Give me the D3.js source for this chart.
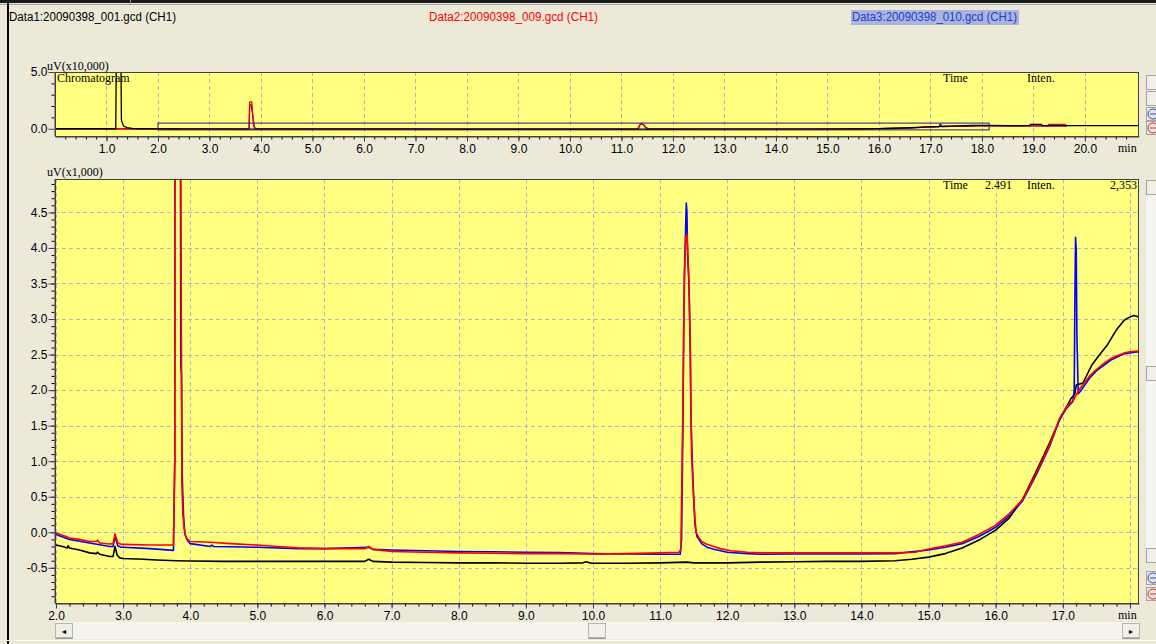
<!DOCTYPE html>
<html>
<head>
<meta charset="utf-8">
<script src="https://cdnjs.cloudflare.com/ajax/libs/d3/7.8.5/d3.min.js"></script>
<style>
  html, body { margin: 0; padding: 0; background: #ece9d8; }
  svg { display: block; }
</style>
</head>
<body>
<svg id="chart" width="1156" height="644"></svg>
<script>
// data files shown in the header
const fileNames = ['Data1:20090398_001.gcd (CH1)', 'Data2:20090398_009.gcd (CH1)', 'Data3:20090398_010.gcd (CH1)'];

// retention time (min) and intensity (uV x1,000) for each trace
const blackTime = [0, 1.18, 1.19, 1.28, 1.29, 1.33, 1.4, 1.5, 1.7, 2.0, 2.1, 2.17, 2.18, 2.2, 2.35, 2.5, 2.6, 2.62, 2.65, 2.8, 2.85, 2.88, 2.91, 2.95, 3.0, 3.3, 3.5, 3.8, 4.0, 4.5, 5.0, 5.5, 6.0, 6.6, 6.66, 6.72, 7.0, 7.5, 8.0, 8.5, 9.0, 9.5, 9.85, 9.9, 9.95, 10.0, 10.5, 11.0, 11.4, 11.5, 12.0, 12.5, 13.0, 13.5, 14.0, 14.5, 14.75, 15.0, 15.25, 15.5, 15.75, 16.0, 16.2, 16.4, 16.6, 16.8, 16.95, 17.05, 17.12, 17.18, 17.2, 17.3, 17.43, 17.55, 17.66, 17.8, 17.91, 18.0, 18.06, 18.13, 18.5, 18.93, 18.94, 19.16, 19.17, 20.0, 21.05];
const blackValue = [0, 0, 60, 60, 7.6, 2.4, 1.0, 0.2, 0, -0.18, -0.2, -0.22, -0.19, -0.22, -0.25, -0.29, -0.3, -0.28, -0.31, -0.34, -0.34, -0.2, -0.32, -0.36, -0.37, -0.38, -0.39, -0.4, -0.405, -0.41, -0.41, -0.41, -0.41, -0.41, -0.38, -0.41, -0.42, -0.425, -0.43, -0.43, -0.435, -0.435, -0.43, -0.415, -0.43, -0.435, -0.435, -0.43, -0.42, -0.43, -0.43, -0.42, -0.415, -0.41, -0.41, -0.4, -0.38, -0.35, -0.3, -0.22, -0.11, 0.03, 0.2, 0.46, 0.85, 1.25, 1.58, 1.75, 1.88, 1.95, 2.07, 2.1, 2.35, 2.5, 2.63, 2.85, 2.98, 3.03, 3.05, 3.03, 2.8, 2.8, 3.9, 3.9, 2.7, 2.7, 2.7];

const redTime = [0, 1.9, 2.0, 2.15, 2.2, 2.35, 2.5, 2.6, 2.62, 2.65, 2.8, 2.85, 2.88, 2.92, 2.97, 3.0, 3.4, 3.75, 3.77, 3.78, 3.82, 3.84, 3.86, 3.87, 3.875, 3.89, 3.91, 3.93, 3.96, 4.0, 4.3, 4.6, 5.0, 5.3, 5.6, 6.0, 6.6, 6.66, 6.72, 7.0, 7.5, 8.0, 8.5, 9.0, 9.5, 10.0, 10.5, 11.0, 11.28, 11.31, 11.33, 11.35, 11.36, 11.385, 11.4, 11.41, 11.43, 11.45, 11.46, 11.47, 11.49, 11.52, 11.54, 11.58, 11.62, 11.7, 11.8, 11.9, 12.05, 12.3, 12.5, 13.0, 13.5, 14.0, 14.5, 14.8, 15.0, 15.25, 15.5, 15.75, 16.0, 16.2, 16.4, 16.6, 16.8, 16.95, 17.05, 17.15, 17.26, 17.4, 17.5, 17.6, 17.71, 17.8, 17.91, 18.0, 18.11, 18.14, 18.5, 19.0, 19.29, 19.3, 19.62, 19.63, 19.65];
const redValue = [0, 0, -0.01, -0.06, -0.08, -0.1, -0.13, -0.13, -0.11, -0.15, -0.165, -0.16, -0.02, -0.15, -0.17, -0.17, -0.18, -0.18, 1.05, 23.7, 23.7, 12, 5.0, 2.3, 0.72, 0.25, 0.05, -0.05, -0.1, -0.13, -0.14, -0.16, -0.18, -0.2, -0.22, -0.23, -0.23, -0.2, -0.24, -0.27, -0.28, -0.29, -0.295, -0.3, -0.3, -0.305, -0.3, -0.29, -0.28, -0.24, 1.12, 2.49, 3.62, 4.15, 4.19, 4.0, 3.53, 2.58, 1.69, 1.07, 0.65, 0.18, -0.01, -0.08, -0.13, -0.17, -0.2, -0.23, -0.26, -0.28, -0.29, -0.29, -0.29, -0.29, -0.29, -0.28, -0.235, -0.19, -0.14, -0.03, 0.1, 0.26, 0.46, 0.82, 1.22, 1.6, 1.76, 1.85, 2.03, 2.2, 2.29, 2.37, 2.44, 2.48, 2.52, 2.54, 2.55, 2.54, 2.5, 2.5, 2.5, 3.9, 3.9, 2.5, 2.5];

const blueTime = [0, 1.9, 2.0, 2.2, 2.5, 2.8, 2.85, 2.88, 2.92, 2.97, 3.0, 3.4, 3.75, 3.77, 3.78, 3.81, 3.84, 3.86, 3.87, 3.88, 3.9, 3.92, 3.95, 4.0, 4.3, 4.32, 4.35, 5.0, 5.6, 6.0, 6.66, 6.72, 7.0, 7.5, 8.0, 8.5, 9.0, 9.5, 10.0, 10.5, 11.0, 11.3, 11.32, 11.34, 11.35, 11.37, 11.39, 11.4, 11.41, 11.43, 11.45, 11.46, 11.48, 11.5, 11.52, 11.55, 11.62, 11.7, 11.8, 12.0, 12.3, 12.5, 13.0, 14.0, 14.5, 15.0, 15.25, 15.5, 15.75, 16.0, 16.2, 16.4, 16.6, 16.8, 16.95, 17.05, 17.15, 17.17, 17.18, 17.19, 17.2, 17.21, 17.23, 17.26, 17.4, 17.5, 17.71, 17.91, 18.11, 18.14, 19.0, 19.65];
const blueValue = [0, 0, -0.03, -0.1, -0.15, -0.2, -0.2, -0.06, -0.19, -0.21, -0.21, -0.23, -0.255, 1.03, 21, 21, 12, 2.35, 2.2, 0.8, 0.23, -0.02, -0.1, -0.16, -0.2, -0.18, -0.2, -0.21, -0.23, -0.23, -0.21, -0.24, -0.25, -0.26, -0.27, -0.275, -0.28, -0.285, -0.3, -0.305, -0.31, -0.31, -0.1, 1.5, 2.8, 3.9, 4.63, 4.5, 3.9, 3.5, 2.5, 1.6, 1.0, 0.5, 0.1, -0.06, -0.16, -0.21, -0.24, -0.28, -0.3, -0.31, -0.305, -0.305, -0.3, -0.25, -0.21, -0.16, -0.06, 0.07, 0.23, 0.44, 0.8, 1.2, 1.58, 1.74, 1.84, 2.0, 3.3, 4.15, 3.97, 2.75, 1.95, 1.98, 2.17, 2.27, 2.42, 2.51, 2.54, 2.53, 2.5, 2.5];

// axis ticks
const mainXTicks = [2, 3, 4, 5, 6, 7, 8, 9, 10, 11, 12, 13, 14, 15, 16, 17, 18];
const mainYTicks = [-0.5, 0, 0.5, 1, 1.5, 2, 2.5, 3, 3.5, 4, 4.5];
const overviewXTicks = [1, 2, 3, 4, 5, 6, 7, 8, 9, 10, 11, 12, 13, 14, 15, 16, 17, 18, 19, 20];
const overviewYTicks = [0, 5];

// cursor readout
const cursorTime = '2.491';
const cursorInten = '2,353';

const svg = d3.select('#chart');
const sans = 'Liberation Sans, Arial, sans-serif';
const serif = 'Liberation Serif, Times New Roman, serif';
const color = { black: '#000000', red: '#ff0000', blue: '#0000ff', plot: '#ffff80', grid: '#b4b4c4', axis: '#404040' };

const series = [
  { name: 'black', time: blackTime, value: blackValue, color: color.black },
  { name: 'blue', time: blueTime, value: blueValue, color: color.blue },
  { name: 'red', time: redTime, value: redValue, color: color.red }
].map(s => Object.assign(s, { points: s.time.map((t, i) => [t, s.value[i]]) }));

// window frame
svg.append('rect').attr('x', 0).attr('y', 0).attr('width', 1156).attr('height', 3).attr('fill', '#1a1a1a');
svg.append('line').attr('x1', 130.5).attr('x2', 130.5).attr('y1', 0).attr('y2', 4).attr('stroke', '#888');
svg.append('line').attr('x1', 0).attr('x2', 1156).attr('y1', 4.5).attr('y2', 4.5).attr('stroke', '#a0a0a0');
svg.append('rect').attr('x', 7).attr('y', 3).attr('width', 2).attr('height', 641).attr('fill', '#000');

// header with file names
const header = svg.append('g').attr('font-family', sans).attr('font-size', 12);
header.append('rect').attr('x', 851).attr('y', 10).attr('width', 168).attr('height', 15).attr('fill', '#aab5da');
header.selectAll('text')
    .data(fileNames)
    .enter()
    .append('text')
    .attr('x', (d, i) => [9, 429, 852][i])
    .attr('y', 21)
    .attr('textLength', (d, i) => [167, 169, 165][i])
    .attr('lengthAdjust', 'spacingAndGlyphs')
    .attr('fill', (d, i) => [color.black, color.red, '#1f3ad6'][i])
    .text(d => d);

function drawPanel(opt) {
  const g = svg.append('g');
  const x = d3.scaleLinear().domain(opt.xDomain).range([opt.left, opt.right]);
  const y = d3.scaleLinear().domain(opt.yDomain).range([opt.bottom, opt.top]);
  const clipId = 'clip-' + opt.id;

  g.append('clipPath').attr('id', clipId)
      .append('rect')
      .attr('x', opt.left).attr('y', opt.top)
      .attr('width', opt.right - opt.left).attr('height', opt.bottom - opt.top);

  g.append('rect')
      .attr('x', opt.left).attr('y', opt.top)
      .attr('width', opt.right - opt.left).attr('height', opt.bottom - opt.top)
      .attr('fill', color.plot);

  // dashed grid
  g.append('g').selectAll('line')
      .data(opt.xTicks.filter(t => x(t) > opt.left + 1 && x(t) < opt.right - 1))
      .enter()
      .append('line')
      .attr('x1', d => Math.round(x(d)) + 0.5).attr('x2', d => Math.round(x(d)) + 0.5)
      .attr('y1', opt.top).attr('y2', opt.bottom)
      .attr('stroke', color.grid).attr('stroke-dasharray', '4,3');

  g.append('g').selectAll('line')
      .data(opt.gridY ? opt.yTicks : [])
      .enter()
      .append('line')
      .attr('x1', opt.left).attr('x2', opt.right)
      .attr('y1', d => Math.round(y(d)) + 0.5).attr('y2', d => Math.round(y(d)) + 0.5)
      .attr('stroke', color.grid).attr('stroke-dasharray', '4,3');

  // minor ticks
  g.append('g')
      .attr('transform', `translate(${opt.left - 0.5},0)`)
      .call(d3.axisLeft(y).tickValues(opt.yMinor).tickSize(3).tickSizeOuter(0).tickFormat(''))
      .call(a => a.select('.domain').remove());
  g.append('g')
      .attr('transform', `translate(0,${opt.bottom + 0.5})`)
      .call(d3.axisBottom(x).tickValues(opt.xMinor).tickSize(3).tickSizeOuter(0).tickFormat(''))
      .call(a => a.select('.domain').remove());

  // major ticks and labels
  const yAxis = g.append('g')
      .attr('transform', `translate(${opt.left - 0.5},0)`)
      .call(d3.axisLeft(y).tickValues(opt.yTicks).tickSize(6).tickSizeOuter(0).tickPadding(1).tickFormat(d => d.toFixed(1)));
  const xAxis = g.append('g')
      .attr('transform', `translate(0,${opt.bottom + 0.5})`)
      .call(d3.axisBottom(x).tickValues(opt.xTicks).tickSize(5).tickSizeOuter(0).tickPadding(3).tickFormat(opt.xFormat));

  [yAxis, xAxis].forEach(a => {
    a.selectAll('line, path').attr('stroke', color.axis);
    a.selectAll('text').attr('font-family', sans).attr('font-size', 12).attr('fill', '#000');
  });
  yAxis.select('.domain').attr('d', `M0.5,${opt.top}V${opt.bottom}`);

  // traces
  const line = d3.line().x(d => x(d[0])).y(d => y(d[1] / opt.scale));
  g.append('g').attr('clip-path', `url(#${clipId})`)
      .selectAll('path')
      .data(opt.order.map(n => series.find(s => s.name === n)))
      .enter()
      .append('path')
      .attr('d', d => line(d.points))
      .attr('fill', 'none')
      .attr('stroke', d => d.color)
      .attr('stroke-width', opt.lineWidth)
      .attr('stroke-linejoin', 'round');

  // frame
  g.append('rect')
      .attr('x', opt.left + 0.5).attr('y', opt.top + 0.5)
      .attr('width', opt.right - opt.left - 1).attr('height', opt.bottom - opt.top)
      .attr('fill', 'none').attr('stroke', color.axis);

  return { g, x, y };
}

// overview chromatogram (uV x10,000)
const overview = drawPanel({
  id: 'overview', left: 55, right: 1139, top: 72, bottom: 136,
  xDomain: [0, 21.05], yDomain: [-0.64, 5.0], scale: 10,
  xTicks: overviewXTicks, yTicks: overviewYTicks,
  xMinor: d3.range(1, 105).map(i => i / 5), yMinor: [1, 2, 3, 4],
  xFormat: d => d.toFixed(1), gridY: false,
  order: ['blue', 'red', 'black'], lineWidth: 1.3
});

// zoom window marker in the overview
overview.g.append('rect')
    .attr('x', overview.x(2.0)).attr('y', overview.y(0.497))
    .attr('width', overview.x(18.14) - overview.x(2.0))
    .attr('height', overview.y(-0.0995) - overview.y(0.497))
    .attr('fill', 'none').attr('stroke', '#1c1c8c').attr('stroke-width', 1);

// main chromatogram (uV x1,000)
const main = drawPanel({
  id: 'main', left: 55, right: 1139, top: 179, bottom: 603,
  xDomain: [1.985, 18.135], yDomain: [-0.995, 4.97], scale: 1,
  xTicks: mainXTicks, yTicks: mainYTicks,
  xMinor: d3.range(10, 91).map(i => i / 5), yMinor: d3.range(-9, 50).map(i => i / 10),
  xFormat: d => d >= 18 ? '' : d.toFixed(1), gridY: true,
  order: ['black', 'blue', 'red'], lineWidth: 1.6
});

// serif labels
const labels = svg.append('g').attr('font-family', serif).attr('font-size', 12).attr('fill', '#000');
[
  { x: 47, y: 70, t: 'uV(x10,000)' },
  { x: 57, y: 82, t: 'Chromatogram' },
  { x: 943, y: 82, t: 'Time' },
  { x: 1027, y: 82, t: 'Inten.' },
  { x: 1118, y: 152, t: 'min' },
  { x: 47, y: 176, t: 'uV(x1,000)' },
  { x: 943, y: 189, t: 'Time' },
  { x: 985, y: 189, t: cursorTime },
  { x: 1027, y: 189, t: 'Inten.' },
  { x: 1137, y: 189, t: cursorInten, anchor: 'end' },
  { x: 1118, y: 619, t: 'min' }
].forEach(d => {
  labels.append('text').attr('x', d.x).attr('y', d.y)
      .attr('text-anchor', d.anchor || 'start').text(d.t);
});

// bottom scrollbar
const hs = svg.append('g');
hs.append('rect').attr('x', 55).attr('y', 622).attr('width', 1085).attr('height', 17).attr('fill', '#f5f4ee');
hs.append('line').attr('x1', 0).attr('x2', 1156).attr('y1', 640.5).attr('y2', 640.5).attr('stroke', '#fbfaf6');
[[55, '\u25C4'], [1122, '\u25BA'], [588, '']].forEach(([bx, glyph]) => {
  hs.append('rect').attr('x', bx + 0.5).attr('y', 623.5).attr('width', 17).attr('height', 15)
      .attr('fill', '#f0efe8').attr('stroke', '#b8b6a8');
  hs.append('line').attr('x1', bx + 1).attr('x2', bx + 17).attr('y1', 638).attr('y2', 638).attr('stroke', '#807e70');
  hs.append('text').attr('x', bx + 9).attr('y', 634).attr('text-anchor', 'middle')
      .attr('font-size', 7).attr('font-family', sans).text(glyph);
});

// right side buttons
const vs = svg.append('g');
vs.append('rect').attr('x', 1146).attr('y', 180).attr('width', 10).attr('height', 382).attr('fill', '#f5f4ee');
[[75, 'btn'], [91, 'btn'], [107, 'blue'], [121, 'red'], [180, 'btn'], [366, 'btn'], [548, 'btn'], [571, 'blue'], [587, 'red']].forEach(([by, kind]) => {
  if (kind === 'btn') {
    vs.append('rect').attr('x', 1146.5).attr('y', by + 0.5).attr('width', 12).attr('height', 14)
        .attr('fill', '#f0efe8').attr('stroke', '#a8a698');
  } else {
    vs.append('rect').attr('x', 1146.5).attr('y', by + 0.5).attr('width', 12).attr('height', 13)
        .attr('fill', '#e8e6dc').attr('stroke', '#a8a698');
    vs.append('circle').attr('cx', 1153).attr('cy', by + 7).attr('r', 5)
        .attr('fill', 'none').attr('stroke', kind === 'blue' ? '#3050c8' : '#c83030');
    vs.append('line').attr('x1', 1150).attr('x2', 1156).attr('y1', by + 7).attr('y2', by + 7)
        .attr('stroke', kind === 'blue' ? '#3050c8' : '#c83030');
  }
});
</script>
</body>
</html>
